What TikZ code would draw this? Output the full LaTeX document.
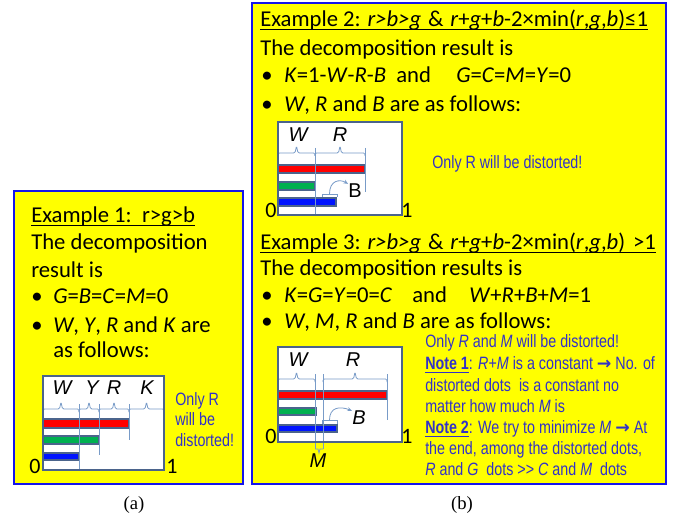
\documentclass[tikz,border=0pt]{standalone}
\usepackage{fontspec}
\setmainfont{Carlito}
\newfontfamily\narrow[FakeStretch=0.8]{Liberation Sans}
\newfontfamily\arial{Liberation Sans}
\newfontfamily\capfont{Liberation Serif}
\newfontfamily\arrowfont{DejaVu Sans}
\usetikzlibrary{arrows.meta}
\definecolor{panelblue}{RGB}{20,20,235}
\definecolor{boxc}{RGB}{75,100,140}
\definecolor{guidec}{RGB}{120,155,200}
\definecolor{bluetext}{RGB}{50,50,200}
\definecolor{barred}{RGB}{255,0,0}
\definecolor{bargreen}{RGB}{0,176,80}
\definecolor{barblue}{RGB}{0,20,255}
\definecolor{yel}{RGB}{255,255,0}
\newcommand\ulbar[1]{\setbox0\hbox{#1}\leavevmode\rlap{\rule[-2.6pt]{\wd0}{0.9pt}}\box0}
\newcommand\brk[3]{\draw[guide,rounded corners=1pt] (#1,#3+3) -- (#1,#3) -- ({(#1+#2)/2-1.5},#3) -- ({(#1+#2)/2},#3-7) -- ({(#1+#2)/2+1.5},#3) -- (#2,#3) -- (#2,#3+3);}
\newcommand\rarr{{\arrowfont\bfseries\fontsize{13}{14}\selectfont →}}
\begin{document}
\begin{tikzpicture}[x=0.75pt,y=-0.75pt,
 txt/.style={anchor=base west, inner sep=0pt, font=\fontsize{17}{20}\selectfont},
 bt/.style={anchor=base west, inner sep=0pt, font=\narrow\fontsize{13.4}{15}\selectfont, text=bluetext},
 lab/.style={inner sep=0pt, font=\arial\itshape\fontsize{15}{17}\selectfont},
 ulab/.style={inner sep=0pt, font=\arial\fontsize{15}{17}\selectfont},
 num/.style={inner sep=0pt, font=\fontsize{16.5}{18}\selectfont},
 panel/.style={draw=panelblue, line width=2.2pt, fill=yel},
 chartbox/.style={draw=boxc, line width=2pt},
 bar/.style={draw=boxc, line width=1.1pt},
 guide/.style={draw=guidec, line width=0.6pt},
 captxt/.style={inner sep=0pt, font=\capfont\fontsize{14}{16}\selectfont}]
\useasboundingbox (0,0) rectangle (676,517);
\fill[white] (0,0) rectangle (676,517);
% panels
\draw[panel] (14,191) rectangle (243,484);
\draw[panel] (252,3) rectangle (666,484);

% ---------- panel (a) text ----------
\node[txt] (a1) at (31,223) {\ulbar{Example 1:\ \ r>g>b}};
\node[txt] (a2) at (31,250) {The decomposition};
\node[txt] (a3) at (31,277) {result is};
\node[txt] (a4b) at (31,304) {•};
\node[txt] (a4) at (53,304) {\textit{G}=\textit{B}=\textit{C}=\textit{M}=0};
\node[txt] (a5b) at (31,332) {•};
\node[txt] (a5) at (53,332) {\textit{W}, \textit{Y}, \textit{R} and \textit{K} are};
\node[txt] (a6) at (53,358) {as follows:};

% chart 1
\fill[white] (43,376) rectangle (164,470);
\draw[bar,fill=barred] (43,419) rectangle (129,428);
\draw[bar,fill=bargreen] (43,436) rectangle (99,444);
\draw[bar,fill=barblue] (43,453) rectangle (79,460);
\brk{43}{79}{409}
\brk{79}{99}{409}
\brk{99}{129}{409}
\brk{129}{164}{409}
\draw[guide] (79,404) -- (79,470);
\draw[guide] (99,404) -- (99,455);
\draw[guide] (129,404) -- (129,440);
\draw[chartbox] (43,376) rectangle (164,470);
\node[lab] (c1w) at (62,388) {W};
\node[lab] (c1y) at (92,388) {Y};
\node[lab] (c1r) at (114,388) {R};
\node[lab] (c1k) at (147,388) {K};
\node[num] (c1z) at (35,466) {0};
\node[num] (c1o) at (172,466) {1};
\node[bt] (a7) at (175,405) {Only R};
\node[bt] (a8) at (175,425.5) {will be};
\node[bt] (a9) at (175,446) {distorted!};

% ---------- panel (b) example 2 ----------
\node[txt] (b1) at (260,27) {\ulbar{Example 2: \textit{r>b>g}\hspace{0.3em}\&\hspace{0.3em}\textit{r}+\textit{g}+\textit{b}-2×min(\textit{r},\textit{g},\textit{b})≤1}};
\node[txt] (b2) at (260,56) {The decomposition result is};
\node[txt] (b3b) at (261,83) {•};
\node[txt] (b3) at (284,83) {\textit{K}=1-\textit{W}-\textit{R}-\textit{B}};
\node[txt] (b3a) at (396,83) {and};
\node[txt] (b3c) at (456,83) {\textit{G}=\textit{C}=\textit{M}=\textit{Y}=0};
\node[txt] (b4b) at (261,112) {•};
\node[txt] (b4) at (284,112) {\textit{W}, \textit{R} and \textit{B} are as follows:};

% chart 2
\fill[white] (278,122) rectangle (402,215);
\draw[bar,fill=barred] (278,165) rectangle (365,173);
\draw[bar,fill=bargreen] (278,182) rectangle (315,190);
\draw[bar,fill=barblue] (278,198) rectangle (336,206);
\brk{278}{315}{153}
\brk{315}{365}{153}
\draw[guide] (315,148) -- (315,215);
\draw[guide] (365,148) -- (365,192);
\draw[guide] (322,197) -- (322,194) -- (337,194) -- (337,197);
\draw[chartbox] (278,122) rectangle (402,215);
\node[lab] (c2w) at (298,135) {W};
\node[lab] (c2r) at (340,135) {R};
\node[ulab] (c2b) at (355,191) {B};
\coordinate (c2s) at (329.5,194);
\draw[guide,-{Stealth[length=3.5pt,width=3pt]}] (c2s) .. controls (329.5,180) and (340,179) .. (c2b.north west);
\node[num] (c2z) at (271,210) {0};
\node[num] (c2o) at (407,210) {1};
\node[bt] (b5) at (432,169) {Only R will be distorted!};

% ---------- panel (b) example 3 ----------
\node[txt] (e1) at (260,250) {\ulbar{Example 3: \textit{r>b>g}\hspace{0.3em}\&\hspace{0.3em}\textit{r}+\textit{g}+\textit{b}-2×min(\textit{r},\textit{g},\textit{b})\hspace{0.35em}>1}};
\node[txt] (e2) at (260,276) {The decomposition results is};
\node[txt] (e3b) at (261,302) {•};
\node[txt] (e3) at (284,302) {\textit{K}=\textit{G}=\textit{Y}=0=\textit{C}};
\node[txt] (e3a) at (412,302) {and};
\node[txt] (e3c) at (469,302) {\textit{W}+\textit{R}+\textit{B}+\textit{M}=1};
\node[txt] (e4b) at (261,329) {•};
\node[txt] (e4) at (284,329) {\textit{W}, \textit{M}, \textit{R} and \textit{B} are as follows:};

% chart 3
\fill[white] (278,347) rectangle (402,442);
\draw[bar,fill=barred] (278,391) rectangle (387,399);
\draw[bar,fill=bargreen] (278,408) rectangle (316,415);
\draw[bar,fill=barblue] (278,425) rectangle (337,432);
\brk{278}{315}{379}
\brk{323}{387}{379}
\draw[guide] (315,374) -- (315,449);
\draw[guide] (323,374) -- (323,449);
\draw[guide] (387,374) -- (387,420);
\draw[guide] (322,424) -- (322,420) -- (337,420) -- (337,424);
\draw[chartbox] (278,347) rectangle (402,442);
\draw[guide] (315,449) -- (318,449) -- (319,453) -- (320,449) -- (323,449);
\node[lab] (c3w) at (298,360) {W};
\node[lab] (c3r) at (353,360) {R};
\node[lab] (c3b) at (359,418) {B};
\node[lab] (c3m) at (318,461) {M};
\coordinate (c3s) at (329.5,420);
\draw[guide,-{Stealth[length=3.5pt,width=3pt]}] (c3s) .. controls (329.5,407) and (340,406) .. (c3b.north west);
\node[num] (c3z) at (271,436) {0};
\node[num] (c3o) at (407,436) {1};

% notes
\node[bt] (n1) at (425,348) {Only \textit{R} and \textit{M} will be distorted!};
\node[bt] (n2) at (425,369.5) {\ulbar{\bfseries Note 1}: \textit{R}+\textit{M} is a constant \rarr\ No. of};
\node[bt] (n3) at (425,391) {distorted dots\ \ is a constant no};
\node[bt] (n4) at (425,412) {matter how much \textit{M} is};
\node[bt] (n5) at (425,433.5) {\ulbar{\bfseries Note 2}: We try to minimize \textit{M} \rarr\ At};
\node[bt] (n6) at (425,454.5) {the end, among the distorted dots,};
\node[bt] (n7) at (425,475.5) {\textit{R} and \textit{G}\ \ dots >> \textit{C} and \textit{M}\ \ dots};

% captions
\node[captxt] (capa) at (134,505) {(a)};
\node[captxt] (capb) at (462,505) {(b)};
\end{tikzpicture}
\end{document}
